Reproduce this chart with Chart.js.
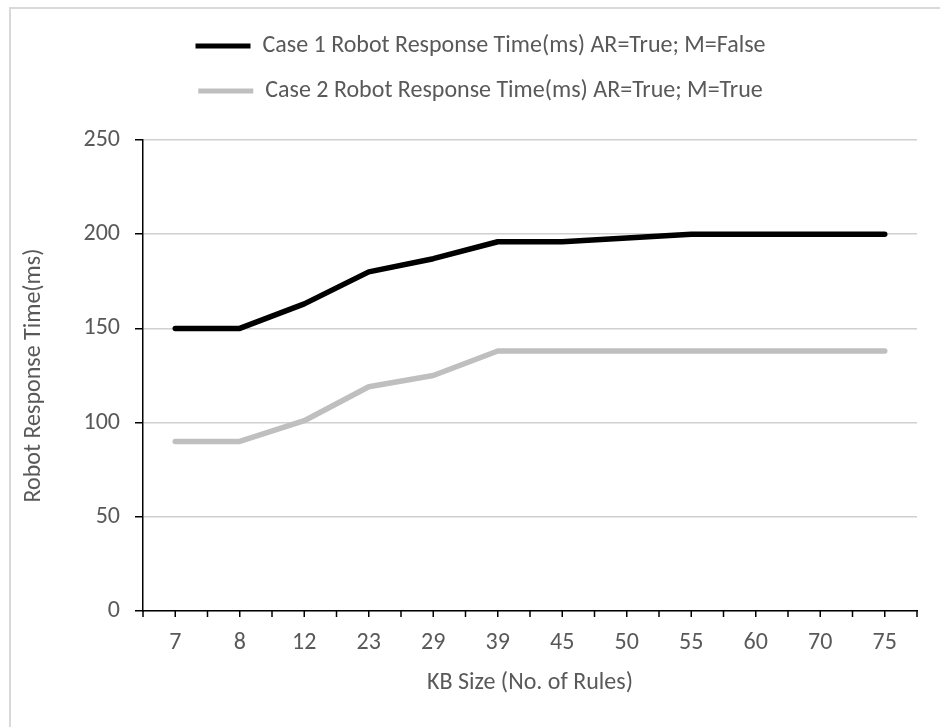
<!DOCTYPE html>
<html>
<head>
<meta charset="utf-8">
<script src="https://cdn.jsdelivr.net/npm/chart.js@4.4.1/dist/chart.umd.min.js"></script>
<style>
  html, body { margin: 0; padding: 0; background: #fff; overflow: hidden; }
  #frame { position: absolute; left: 9px; top: 7px; width: 1000px; height: 800px; border: 2px solid #d9d9d9; box-sizing: border-box; }
  #wrap { position: absolute; left: 0; top: 0; width: 940px; height: 727px; }
</style>
</head>
<body>
<div id="frame"></div>
<div id="wrap"><canvas id="c" width="940" height="727"></canvas></div>
<script>
const categories = ["7", "8", "12", "23", "29", "39", "45", "50", "55", "60", "70", "75"];
const case1Values = [150, 150, 163, 180, 187, 196, 196, 198, 200, 200, 200, 200];
const case2Values = [90, 90, 101, 119, 125, 138, 138, 138, 138, 138, 138, 138];
const seriesNames = [
  "Case 1 Robot Response Time(ms) AR=True; M=False",
  "Case 2 Robot Response Time(ms) AR=True; M=True"
];
const yTitle = "Robot Response Time(ms)";
const xTitle = "KB Size (No. of Rules)";

const FONT = "Carlito, Calibri, 'Liberation Sans Narrow', 'Open Sans', sans-serif";
const TXT = "#595959";
const FS = 24;

const legendExtra = {
  id: 'legendExtra',
  beforeInit(chart) {
    const lg = chart.legend;
    const fit = lg.fit;
    lg.fit = function () {
      fit.bind(lg)();
      this.height += 27;
    };
    const draw = lg.draw;
    lg.draw = function () {
      const ctx = chart.ctx;
      ctx.save();
      ctx.translate(22, 0);
      draw.bind(lg)();
      ctx.restore();
    };
  }
};

const xTicks = {
  id: 'xTicks',
  afterDatasetsDraw(chart) {
    const x = chart.scales.x;
    const ctx = chart.ctx;
    const n = x.ticks.length;
    const half = (x.getPixelForValue(1) - x.getPixelForValue(0)) / 2;
    ctx.save();
    ctx.strokeStyle = '#000';
    ctx.lineWidth = 1.5;
    ctx.beginPath();
    for (let i = 0; i < n; i++) {
      const c = x.getPixelForValue(i);
      [c - half, c].forEach(p => { ctx.moveTo(p, x.top); ctx.lineTo(p, x.top + 6); });
      if (i === n - 1) { ctx.moveTo(c + half, x.top); ctx.lineTo(c + half, x.top + 6); }
    }
    ctx.stroke();
    ctx.restore();
  }
};

new Chart(document.getElementById('c'), {
  type: 'line',
  data: {
    labels: categories,
    datasets: [
      { label: seriesNames[0], data: case1Values, borderColor: '#000000', backgroundColor: '#000000',
        borderWidth: 5.5, borderCapStyle: 'round', borderJoinStyle: 'round', pointRadius: 0, tension: 0 },
      { label: seriesNames[1], data: case2Values, borderColor: '#bfbfbf', backgroundColor: '#bfbfbf',
        borderWidth: 5.5, borderCapStyle: 'round', borderJoinStyle: 'round', pointRadius: 0, tension: 0 }
    ]
  },
  plugins: [legendExtra, xTicks],
  options: {
    responsive: false,
    animation: false,
    devicePixelRatio: 1,
    layout: { padding: { top: 13, right: 23, bottom: 0, left: 0 } },
    plugins: {
      tooltip: { enabled: false },
      legend: {
        position: 'top',
        labels: {
          boxWidth: 55, boxHeight: 5, padding: 21, color: TXT,
          font: { family: FONT, size: FS },
          useBorderRadius: true, borderRadius: 2.5,
          generateLabels(chart) {
            return chart.data.datasets.map((d, i) => ({
              text: d.label, fillStyle: d.borderColor, strokeStyle: d.borderColor,
              lineWidth: 0, fontColor: TXT, datasetIndex: i, hidden: false
            }));
          }
        }
      }
    },
    scales: {
      x: {
        offset: true,
        afterFit(s) { s.height = 116; },
        grid: { display: true, offset: true, drawOnChartArea: false, drawTicks: false, tickLength: 0 },
        border: { display: true, color: '#000', width: 1.5 },
        ticks: { color: TXT, font: { family: FONT, size: FS }, padding: 18, maxRotation: 0, autoSkip: false },
        title: { display: true, text: xTitle, color: TXT, font: { family: FONT, size: FS }, padding: { top: 30, bottom: 30 } }
      },
      y: {
        min: 0, max: 250,
        afterFit(s) { s.width = 143; },
        ticks: { stepSize: 50, color: TXT, font: { family: FONT, size: FS }, padding: 15 },
        grid: { color: '#d0d0d0', lineWidth: 1.5, tickColor: '#000', tickLength: 8, drawTicks: true },
        border: { display: true, color: '#000', width: 1.5 },
        title: { display: true, text: yTitle, color: TXT, font: { family: FONT, size: FS }, padding: { top: 20, bottom: 20 } }
      }
    }
  }
});
</script>
</body>
</html>
